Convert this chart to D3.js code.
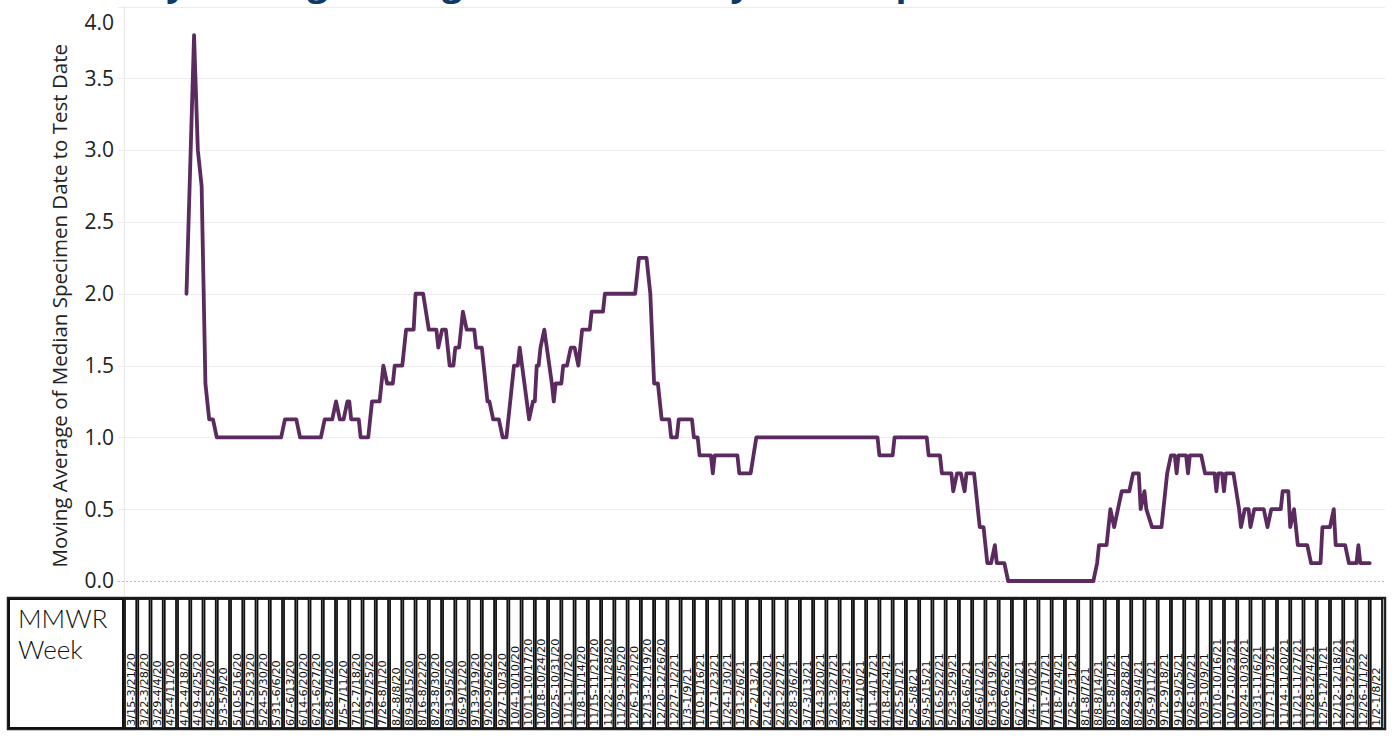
<!DOCTYPE html>
<meta charset="utf-8">
<style>
body {
  margin: 0;
  background: #fff;
}
.grid line {
  stroke: #ececec;
  stroke-width: 1;
  shape-rendering: crispEdges;
}
.tick-label {
  font: 21px "Open Sans", sans-serif;
  fill: #222;
}
.week-label {
  font: 11.3px "DejaVu Sans", sans-serif;
  fill: #111;
}
</style>
<body>
<script src="https://d3js.org/d3.v7.min.js"></script>
<script>

// MMWR week columns of the header table
var weekLabels = [
  "3/15-3/21/20", "3/22-3/28/20", "3/29-4/4/20", "4/5-4/11/20", "4/12-4/18/20",
  "4/19-4/25/20", "4/26-5/2/20", "5/3-5/9/20", "5/10-5/16/20", "5/17-5/23/20",
  "5/24-5/30/20", "5/31-6/6/20", "6/7-6/13/20", "6/14-6/20/20", "6/21-6/27/20",
  "6/28-7/4/20", "7/5-7/11/20", "7/12-7/18/20", "7/19-7/25/20", "7/26-8/1/20",
  "8/2-8/8/20", "8/9-8/15/20", "8/16-8/22/20", "8/23-8/30/20", "8/31-9/5/20",
  "9/6-9/12/20", "9/13-9/19/20", "9/20-9/26/20", "9/27-10/3/20", "10/4-10/10/20",
  "10/11-10/17/20", "10/18-10/24/20", "10/25-10/31/20", "11/1-11/7/20", "11/8-11/14/20",
  "11/15-11/21/20", "11/22-11/28/20", "11/29-12/5/20", "12/6-12/12/20", "12/13-12/19/20",
  "12/20-12/26/20", "12/27-1/2/21", "1/3-1/9/21", "1/10-1/16/21", "1/17-1/23/21",
  "1/24-1/30/21", "1/31-2/6/21", "2/7-2/13/21", "2/14-2/20/21", "2/21-2/27/21",
  "2/28-3/6/21", "3/7-3/13/21", "3/14-3/20/21", "3/21-3/27/21", "3/28-4/3/21",
  "4/4-4/10/21", "4/11-4/17/21", "4/18-4/24/21", "4/25-5/1/21", "5/2-5/8/21",
  "5/9-5/15/21", "5/16-5/22/21", "5/23-5/29/21", "5/30-6/5/21", "6/6-6/12/21",
  "6/13-6/19/21", "6/20-6/26/21", "6/27-7/3/21", "7/4-7/10/21", "7/11-7/17/21",
  "7/18-7/24/21", "7/25-7/31/21", "8/1-8/7/21", "8/8-8/14/21", "8/15-8/21/21",
  "8/22-8/28/21", "8/29-9/4/21", "9/5-9/11/21", "9/12-9/18/21", "9/19-9/25/21",
  "9/26-10/2/21", "10/3-10/9/21", "10/10-10/16/21", "10/17-10/23/21", "10/24-10/30/21",
  "10/31-11/6/21", "11/7-11/13/21", "11/14-11/20/21", "11/21-11/27/21", "11/28-12/4/21",
  "12/5-12/11/21", "12/12-12/18/21", "12/19-12/25/21", "12/26-1/1/22", "1/2-1/8/22"
];

// day number counted from 3/15/20 (start of the first MMWR week)
var dayIndex = [
  33, 37, 39, 41, 43, 45, 47, 49, 83, 85,
  91, 93, 104, 106, 110, 112, 114, 116, 118, 119,
  120, 124, 125, 129, 131, 135, 137, 139, 142, 143,
  147, 149, 153, 154, 158, 161, 165, 166, 168, 170,
  172, 174, 175, 177, 179, 181, 185, 186, 189, 192,
  193, 195, 198, 200, 202, 206, 208, 209, 214, 216,
  217, 218, 219, 220, 222, 226, 227, 228, 231, 232,
  234, 236, 238, 240, 242, 246, 247, 253, 254, 270,
  272, 276, 278, 280, 282, 284, 288, 289, 292, 293,
  300, 301, 303, 304, 310, 311, 312, 324, 325, 331,
  334, 398, 399, 406, 407, 424, 425, 431, 432, 437,
  438, 440, 442, 444, 445, 449, 452, 454, 456, 458,
  460, 461, 465, 467, 512, 514, 515, 519, 520, 521,
  523, 525, 527, 531, 533, 536, 537, 539, 540, 543,
  548, 549, 551, 553, 555, 556, 557, 561, 562, 563,
  569, 571, 576, 577, 578, 580, 581, 582, 586, 589,
  590, 592, 594, 595, 597, 602, 604, 606, 611, 612,
  615, 616, 618, 620, 625, 627, 632, 633, 637, 639,
  640, 645, 647, 651, 652, 653, 658
];

// moving average of median specimen date to test date (days)
var avgLag = [
  2.0, 3.8, 3.0, 2.75, 1.375, 1.125, 1.125, 1.0, 1.0, 1.125,
  1.125, 1.0, 1.0, 1.125, 1.125, 1.25, 1.125, 1.125, 1.25, 1.25,
  1.125, 1.125, 1.0, 1.0, 1.25, 1.25, 1.5, 1.375, 1.375, 1.5,
  1.5, 1.75, 1.75, 2.0, 2.0, 1.75, 1.75, 1.625, 1.75, 1.75,
  1.5, 1.5, 1.625, 1.625, 1.875, 1.75, 1.75, 1.625, 1.625, 1.25,
  1.25, 1.125, 1.125, 1.0, 1.0, 1.5, 1.5, 1.625, 1.125, 1.25,
  1.25, 1.5, 1.5, 1.625, 1.75, 1.375, 1.25, 1.375, 1.375, 1.5,
  1.5, 1.625, 1.625, 1.5, 1.75, 1.75, 1.875, 1.875, 2.0, 2.0,
  2.25, 2.25, 2.0, 1.375, 1.375, 1.125, 1.125, 1.0, 1.0, 1.125,
  1.125, 1.0, 1.0, 0.875, 0.875, 0.75, 0.875, 0.875, 0.75, 0.75,
  1.0, 1.0, 0.875, 0.875, 1.0, 1.0, 0.875, 0.875, 0.75, 0.75,
  0.625, 0.75, 0.75, 0.625, 0.75, 0.75, 0.375, 0.375, 0.125, 0.125,
  0.25, 0.125, 0.125, 0, 0, 0.125, 0.25, 0.25, 0.375, 0.5,
  0.375, 0.5, 0.625, 0.625, 0.75, 0.75, 0.5, 0.625, 0.5, 0.375,
  0.375, 0.5, 0.75, 0.875, 0.875, 0.75, 0.875, 0.875, 0.75, 0.875,
  0.875, 0.75, 0.75, 0.625, 0.75, 0.75, 0.625, 0.75, 0.75, 0.5,
  0.375, 0.5, 0.5, 0.375, 0.5, 0.5, 0.375, 0.5, 0.5, 0.625,
  0.625, 0.375, 0.5, 0.25, 0.25, 0.125, 0.125, 0.375, 0.375, 0.5,
  0.25, 0.25, 0.125, 0.125, 0.25, 0.125, 0.125
];

var yTicks = [0, 0.5, 1.0, 1.5, 2.0, 2.5, 3.0, 3.5, 4.0];

var titleText = "Daily Moving Average of Median Days from Specimen Collection to Test Date";
var yTitle = "Moving Average of Median Specimen Date to Test Date";

var width = 1395,
    height = 736;

var plot = {left: 124, right: 1383, top: 6.5, bottom: 581},
    header = {left: 8, top: 598, bottom: 729};

var svg = d3.select("body")
            .append("svg")
            .attr("width", width)
            .attr("height", height);

var x = d3.scaleLinear()
          .domain([0, weekLabels.length * 7])
          .range([plot.left, plot.right]);

var y = d3.scaleLinear()
          .domain([0, 4])
          .range([plot.bottom, plot.top]);

var band = d3.scaleBand()
             .domain(weekLabels)
             .range([plot.left, plot.right]);

// title, mostly scrolled off the top of the view (as in the source)
svg.append("text")
    .attr("x", 96)
    .attr("y", -5)
    .style("font", "bold 36px 'Open Sans', sans-serif")
    .style("fill", "#0e3a68")
    .text(titleText);

// gridlines
svg.append("g")
    .attr("class", "grid")
  .selectAll("line")
    .data(yTicks.filter(function(d) { return d > 0; }))
  .enter().append("line")
    .attr("x1", plot.left - 6)
    .attr("x2", plot.right + 2)
    .attr("y1", function(d) { return Math.round(y(d)) + 0.5; })
    .attr("y2", function(d) { return Math.round(y(d)) + 0.5; });

svg.append("line")
    .attr("x1", plot.left + 0.5)
    .attr("x2", plot.left + 0.5)
    .attr("y1", plot.top)
    .attr("y2", header.top - 2)
    .style("stroke", "#e6e6e6");

// zero line
svg.append("line")
    .attr("x1", plot.left - 6)
    .attr("x2", plot.right + 2)
    .attr("y1", Math.round(y(0)) + 0.5)
    .attr("y2", Math.round(y(0)) + 0.5)
    .style("stroke", "#bdbdbd")
    .style("stroke-dasharray", "2,2");

// y tick labels (top one is pushed inside like Tableau does)
svg.append("g")
  .selectAll("text")
    .data(yTicks)
  .enter().append("text")
    .attr("class", "tick-label")
    .attr("x", 114)
    .attr("y", function(d) { return Math.max(y(d), 23); })
    .attr("dy", "0.35em")
    .attr("text-anchor", "end")
    .text(function(d) { return d3.format(".1f")(d); });

svg.append("text")
    .attr("transform", "translate(67," + ((plot.top + plot.bottom) / 2 + 12) + ") rotate(-90)")
    .attr("text-anchor", "middle")
    .style("font", "20.5px 'Open Sans', sans-serif")
    .style("fill", "#222")
    .text(yTitle);

// the line
var points = dayIndex.map(function(d, i) { return [d, avgLag[i]]; });

var line = d3.line()
    .x(function(d) { return x(d[0]); })
    .y(function(d) { return y(d[1]); });

svg.append("path")
    .datum(points)
    .attr("d", line)
    .style("fill", "none")
    .style("stroke", "#5b2a5f")
    .style("stroke-width", 3.8)
    .style("stroke-linejoin", "round")
    .style("stroke-linecap", "round");

// MMWR week header table
var head = svg.append("g").attr("class", "header");

head.append("rect")
    .attr("x", header.left)
    .attr("y", header.top)
    .attr("width", plot.right + 2 - header.left)
    .attr("height", header.bottom - header.top)
    .style("fill", "#d9d9d9")
    .style("stroke", "#222")
    .style("stroke-width", 2.5);

head.append("rect")
    .attr("x", header.left + 1)
    .attr("y", header.top + 1)
    .attr("width", plot.left - header.left - 2)
    .attr("height", header.bottom - header.top - 2)
    .style("fill", "#fff")
    .style("stroke", "#111")
    .style("stroke-width", 2);

head.append("text")
    .attr("x", 18)
    .attr("y", 628)
    .style("font", "300 26px Lato, sans-serif")
    .style("fill", "#111")
    .text("MMWR");

head.append("text")
    .attr("x", 18)
    .attr("y", 659)
    .style("font", "300 26px Lato, sans-serif")
    .style("fill", "#111")
    .text("Week");

var cells = head.selectAll("g.cell")
    .data(weekLabels)
  .enter().append("g")
    .attr("class", "cell")
    .attr("transform", function(d) { return "translate(" + band(d) + ",0)"; });

cells.append("rect")
    .attr("x", 1)
    .attr("y", header.top + 1)
    .attr("width", band.bandwidth() - 2)
    .attr("height", header.bottom - header.top - 2)
    .style("fill", "#fff")
    .style("stroke", "#111")
    .style("stroke-width", 1.8);

cells.append("text")
    .attr("class", "week-label")
    .attr("transform", "translate(" + (band.bandwidth() / 2 + 4) + "," + (header.bottom - 3) + ") rotate(-90)")
    .text(function(d) { return d; });

</script>
</body>
